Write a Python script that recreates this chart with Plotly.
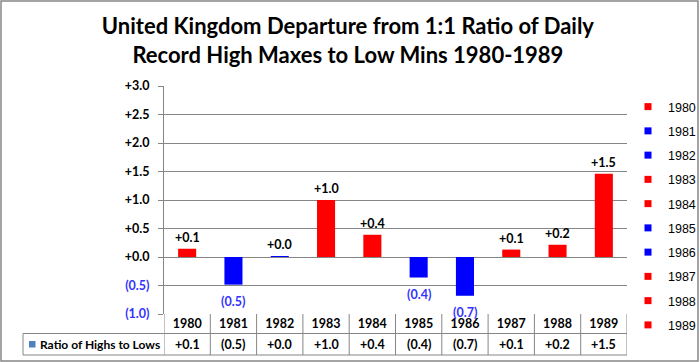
import plotly.graph_objects as go

years = ["1980", "1981", "1982", "1983", "1984", "1985", "1986", "1987", "1988", "1989"]
values = [0.145, -0.485, 0.015, 1.0, 0.39, -0.36, -0.68, 0.13, 0.215, 1.46]
bar_colors = ["#ff0000", "#0000ff", "#0000ff", "#ff0000", "#ff0000",
              "#0000ff", "#0000ff", "#ff0000", "#ff0000", "#ff0000"]
ytick_vals = [-1.0, -0.5, 0.0, 0.5, 1.0, 1.5, 2.0, 2.5, 3.0]
series_name = "Ratio of Highs to Lows"
title = "United Kingdom Departure from 1:1 Ratio of Daily<br>Record High Maxes to Low Mins 1980-1989"

NEG_TXT = "#3333ff"
GRID = "#868686"
FONT = "Lato"

W, H = 700, 362
ML, MR, MT, MB = 164, 73, 86, 48
PW, PH = W - ML - MR, H - MT - MB


def fmt(v):
    r = round(v, 1)
    if r < 0:
        return "({:.1f})".format(-r)
    return "+{:.1f}".format(abs(r))


def px_x(p):
    return (p - ML) / PW


def px_y(p):
    return (H - MB - p) / PH


fig = go.Figure()
fig.add_trace(go.Bar(
    x=years, y=values, width=0.39,
    marker=dict(color=bar_colors, line=dict(width=0)),
    showlegend=False, name=series_name, hoverinfo="x+y",
))

for i, yr in enumerate(years):
    fig.add_trace(go.Scatter(
        x=[years[0]], y=[None], mode="markers", name=yr, legendgroup=yr,
        marker=dict(symbol="square", size=7, color=bar_colors[i]),
    ))

ticktext = []
for v in ytick_vals:
    t = fmt(v)
    if v < 0:
        t = "<span style='color:%s'>%s</span>" % (NEG_TXT, t)
    ticktext.append(t)

shapes = []
line = dict(color=GRID, width=1)
row1 = px_y(333.5)
row2 = px_y(355)
left = px_x(23)
shapes.append(dict(type="line", xref="paper", yref="paper", x0=left, x1=1, y0=row1, y1=row1, line=line))
shapes.append(dict(type="line", xref="paper", yref="paper", x0=left, x1=1, y0=row2, y1=row2, line=line))
shapes.append(dict(type="line", xref="paper", yref="paper", x0=left, x1=left, y0=row1, y1=row2, line=line))
for k in range(len(years) + 1):
    shapes.append(dict(type="line", xref="x", yref="paper", x0=k - 0.5, x1=k - 0.5, y0=0, y1=row2, line=line))
# table legend key
shapes.append(dict(type="rect", xref="paper", yref="paper", x0=px_x(29), x1=px_x(35.5), y0=px_y(341), y1=px_y(347.5),
                   fillcolor="#4f81bd", line=dict(width=0)))
# chart border
shapes.append(dict(type="rect", xref="paper", yref="paper", x0=px_x(1), x1=px_x(698), y0=px_y(1), y1=px_y(361),
                   line=dict(color=GRID, width=1.5), layer="below"))

annotations = []
# data labels on bars
for i, v in enumerate(values):
    if v >= 0:
        annotations.append(dict(xref="x", yref="y", x=i, y=v, text=fmt(v), showarrow=False,
                                font=dict(family=FONT, size=12.5, color="#000000", weight="bold"),
                                xanchor="center", yanchor="bottom", yshift=2))
    else:
        annotations.append(dict(xref="x", yref="y", x=i, y=v, text=fmt(v), showarrow=False,
                                font=dict(family=FONT, size=12.5, color=NEG_TXT, weight="bold"),
                                xanchor="center", yanchor="top", yshift=-7))
# data table row
rowmid = px_y(344.5)
for i, v in enumerate(values):
    annotations.append(dict(xref="x", yref="paper", x=i, y=rowmid, text=fmt(v), showarrow=False,
                            font=dict(family=FONT, size=12.5, color="#000000", weight="bold"),
                            xanchor="center", yanchor="middle"))
annotations.append(dict(xref="paper", yref="paper", x=px_x(37.5), y=rowmid, text=series_name, showarrow=False,
                        font=dict(family=FONT, size=12, color="#000000", weight="bold"),
                        xanchor="left", yanchor="middle"))

fig.update_layout(
    width=W, height=H, autosize=False,
    margin=dict(l=ML, r=MR, t=MT, b=MB, autoexpand=False),
    paper_bgcolor="white", plot_bgcolor="white",
    title=dict(text=title, x=0.497, xref="container", xanchor="center", y=1 - 34 / H, yanchor="top",
               font=dict(family=FONT, size=22, color="#000000", weight="bold")),
    barmode="overlay",
    xaxis=dict(type="category", categoryorder="array", categoryarray=years, range=[-0.5, len(years) - 0.5],
               showgrid=False, showline=False, ticks="", zeroline=False,
               tickfont=dict(family=FONT, size=12.5, color="#000000", weight="bold"), fixedrange=True),
    yaxis=dict(range=[-1, 3], tickvals=ytick_vals, ticktext=ticktext, showgrid=True, gridcolor=GRID, gridwidth=1,
               zeroline=True, zerolinecolor=GRID, zerolinewidth=1, showline=True, linecolor=GRID, linewidth=1,
               ticks="outside", ticklen=5, tickcolor=GRID, ticklabelstandoff=6, fixedrange=True,
               tickfont=dict(family=FONT, size=12.5, color="#000000", weight="bold")),
    legend=dict(x=px_x(628), xanchor="left", y=px_y(92), yanchor="top", tracegroupgap=5, maxheight=300,
                font=dict(family="Liberation Sans", size=12.5, color="#000000"), itemwidth=30,
                bgcolor="rgba(0,0,0,0)"),
    shapes=shapes, annotations=annotations,
)

fig.write_html("out.html", config={"displayModeBar": False},
               post_script="document.body.style.margin='0';document.body.style.overflow='hidden';")
